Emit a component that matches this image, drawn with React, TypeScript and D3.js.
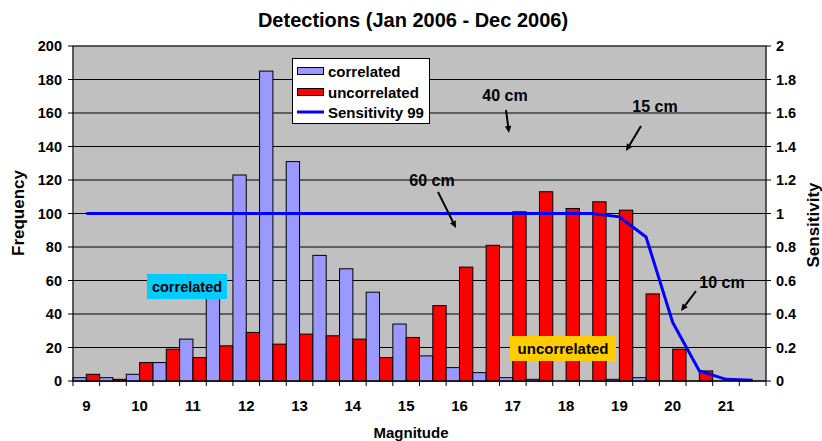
import React from "react";
import * as d3 from "d3";

// magnitude bins (half-magnitude steps)
const bins = [
  "9", "9.5", "10", "10.5", "11", "11.5", "12", "12.5", "13", "13.5", "14", "14.5", "15",
  "15.5", "16", "16.5", "17", "17.5", "18", "18.5", "19", "19.5", "20", "20.5", "21", "21.5",
];
const correlated = [2, 2, 4, 11, 25, 52, 123, 185, 131, 75, 67, 53, 34, 15, 8, 5, 2, 1, 0, 0, 1, 2, 0, 0, 0, 0];
const uncorrelated = [4, 1, 11, 19, 14, 21, 29, 22, 28, 27, 25, 14, 26, 45, 68, 81, 101, 113, 103, 107, 102, 52, 19, 6, 0, 0];
const sensitivity = [
  1, 1, 1, 1, 1, 1, 1, 1, 1, 1, 1, 1, 1, 1, 1, 1, 1, 1, 1, 1, 0.98, 0.86, 0.35, 0.06, 0.01, 0.005,
];
const xLabels = ["9", "10", "11", "12", "13", "14", "15", "16", "17", "18", "19", "20", "21"];
const leftTicks = [0, 20, 40, 60, 80, 100, 120, 140, 160, 180, 200];
const rightTicks = [0, 0.2, 0.4, 0.6, 0.8, 1, 1.2, 1.4, 1.6, 1.8, 2];

// annotation text + arrow (from -> to)
const notes = [
  { text: "40 cm", tx: 505, ty: 101, from: [506, 110], to: [509, 133] },
  { text: "15 cm", tx: 655, ty: 112, from: [641, 126], to: [626, 151] },
  { text: "60 cm", tx: 432, ty: 186, from: [438, 192], to: [456, 228] },
  { text: "10 cm", tx: 722, ty: 288, from: [696, 291], to: [681, 311] },
];

const W = 822;
const H = 441;
const left = 73;
const right = 766;
const top = 46;
const bottom = 381;
const font = "'Liberation Sans', Arial, sans-serif";

export default function App() {
  const x = d3.scaleBand().domain(bins).range([left, right]).padding(0);
  const sub = d3.scaleBand().domain(["c", "u"]).range([0, x.bandwidth()]).padding(0);
  const y = d3.scaleLinear().domain([0, 200]).range([bottom, top]);
  const y2 = d3.scaleLinear().domain([0, 2]).range([bottom, top]);

  const line = d3
    .line<number>()
    .x((_, i) => (x(bins[i]) as number) + x.bandwidth() / 2)
    .y((d) => y2(d));

  const arrow = (from: number[], to: number[]) => {
    const ang = Math.atan2(to[1] - from[1], to[0] - from[0]);
    const len = 7;
    const w = 3.2;
    const bx = to[0] - len * Math.cos(ang);
    const by = to[1] - len * Math.sin(ang);
    const px = -Math.sin(ang) * w;
    const py = Math.cos(ang) * w;
    return {
      shaft: [from[0], from[1], bx, by],
      head: `${to[0]},${to[1]} ${bx + px},${by + py} ${bx - px},${by - py}`,
    };
  };

  return (
    <svg
      width={W}
      height={H}
      style={{ position: "absolute", left: 0, top: 0, background: "#fff" }}
      fontFamily={font}
      fontWeight="bold"
    >
      <text x={413} y={27} textAnchor="middle" fontSize={20}>
        Detections (Jan 2006 - Dec 2006)
      </text>

      {/* plot area */}
      <rect x={left} y={top} width={right - left} height={bottom - top} fill="#C0C0C0" stroke="#808080" />

      {/* gridlines */}
      {leftTicks.map((t) => (
        <line key={t} x1={left} x2={right} y1={y(t)} y2={y(t)} stroke="#000" strokeWidth={1} />
      ))}

      {/* bars */}
      {bins.map((b, i) => (
        <g key={b}>
          {correlated[i] > 0 && (
            <rect
              x={(x(b) as number) + (sub("c") as number)}
              y={y(correlated[i])}
              width={sub.bandwidth()}
              height={y(0) - y(correlated[i])}
              fill="#9999FF"
              stroke="#000"
              strokeWidth={1}
            />
          )}
          {uncorrelated[i] > 0 && (
            <rect
              x={(x(b) as number) + (sub("u") as number)}
              y={y(uncorrelated[i])}
              width={sub.bandwidth()}
              height={y(0) - y(uncorrelated[i])}
              fill="#FF0000"
              stroke="#000"
              strokeWidth={1}
            />
          )}
        </g>
      ))}

      {/* sensitivity line */}
      <path d={line(sensitivity) as string} fill="none" stroke="#0000FF" strokeWidth={3} />

      {/* axes */}
      <line x1={left} x2={right} y1={bottom} y2={bottom} stroke="#000" />
      <line x1={left} x2={left} y1={top} y2={bottom} stroke="#000" />
      <line x1={right} x2={right} y1={top} y2={bottom} stroke="#000" />
      {leftTicks.map((t) => (
        <g key={"l" + t}>
          <line x1={left - 5} x2={left} y1={y(t)} y2={y(t)} stroke="#000" />
          <text x={62} y={y(t) + 5} textAnchor="end" fontSize={14.5}>
            {t}
          </text>
        </g>
      ))}
      {rightTicks.map((t) => (
        <g key={"r" + t}>
          <line x1={right} x2={right + 5} y1={y2(t)} y2={y2(t)} stroke="#000" />
          <text x={776} y={y2(t) + 5} textAnchor="start" fontSize={14.5}>
            {t}
          </text>
        </g>
      ))}
      {bins.map((b) => (
        <line key={"t" + b} x1={x(b) as number} x2={x(b) as number} y1={bottom} y2={bottom + 5} stroke="#000" />
      ))}
      <line x1={right} x2={right} y1={bottom} y2={bottom + 5} stroke="#000" />
      {xLabels.map((l) => (
        <text key={"x" + l} x={(x(l) as number) + x.bandwidth() / 2} y={411} textAnchor="middle" fontSize={15}>
          {l}
        </text>
      ))}

      <text x={411} y={438} textAnchor="middle" fontSize={15}>
        Magnitude
      </text>
      <text transform="translate(24,213) rotate(-90)" textAnchor="middle" fontSize={17}>
        Frequency
      </text>
      <text transform="translate(819,225) rotate(-90)" textAnchor="middle" fontSize={17}>
        Sensitivity
      </text>

      {/* annotation boxes */}
      <rect x={147} y={274} width={80} height={25} fill="#00CCFF" />
      <text x={187} y={292} textAnchor="middle" fontSize={14.5}>
        correlated
      </text>
      <rect x={510} y={336} width={106} height={25} fill="#FFCC00" />
      <text x={563} y={354} textAnchor="middle" fontSize={15}>
        uncorrelated
      </text>

      {notes.map((n) => {
        const a = arrow(n.from, n.to);
        return (
          <g key={n.text}>
            <text x={n.tx} y={n.ty} textAnchor="middle" fontSize={16}>
              {n.text}
            </text>
            <line x1={a.shaft[0]} y1={a.shaft[1]} x2={a.shaft[2]} y2={a.shaft[3]} stroke="#000" strokeWidth={2} />
            <polygon points={a.head} fill="#000" />
          </g>
        );
      })}

      {/* legend */}
      <rect x={292.5} y={58.5} width={137} height={65} fill="#fff" stroke="#000" />
      <rect x={297.5} y={67.5} width={26} height={7} fill="#9999FF" stroke="#000" />
      <text x={328} y={76.5} fontSize={15}>
        correlated
      </text>
      <rect x={297.5} y={88.5} width={26} height={7} fill="#FF0000" stroke="#000" />
      <text x={328} y={97.5} fontSize={15}>
        uncorrelated
      </text>
      <line x1={297} x2={324} y1={112} y2={112} stroke="#0000FF" strokeWidth={3} />
      <text x={328} y={118} fontSize={15}>
        Sensitivity 99
      </text>
    </svg>
  );
}
